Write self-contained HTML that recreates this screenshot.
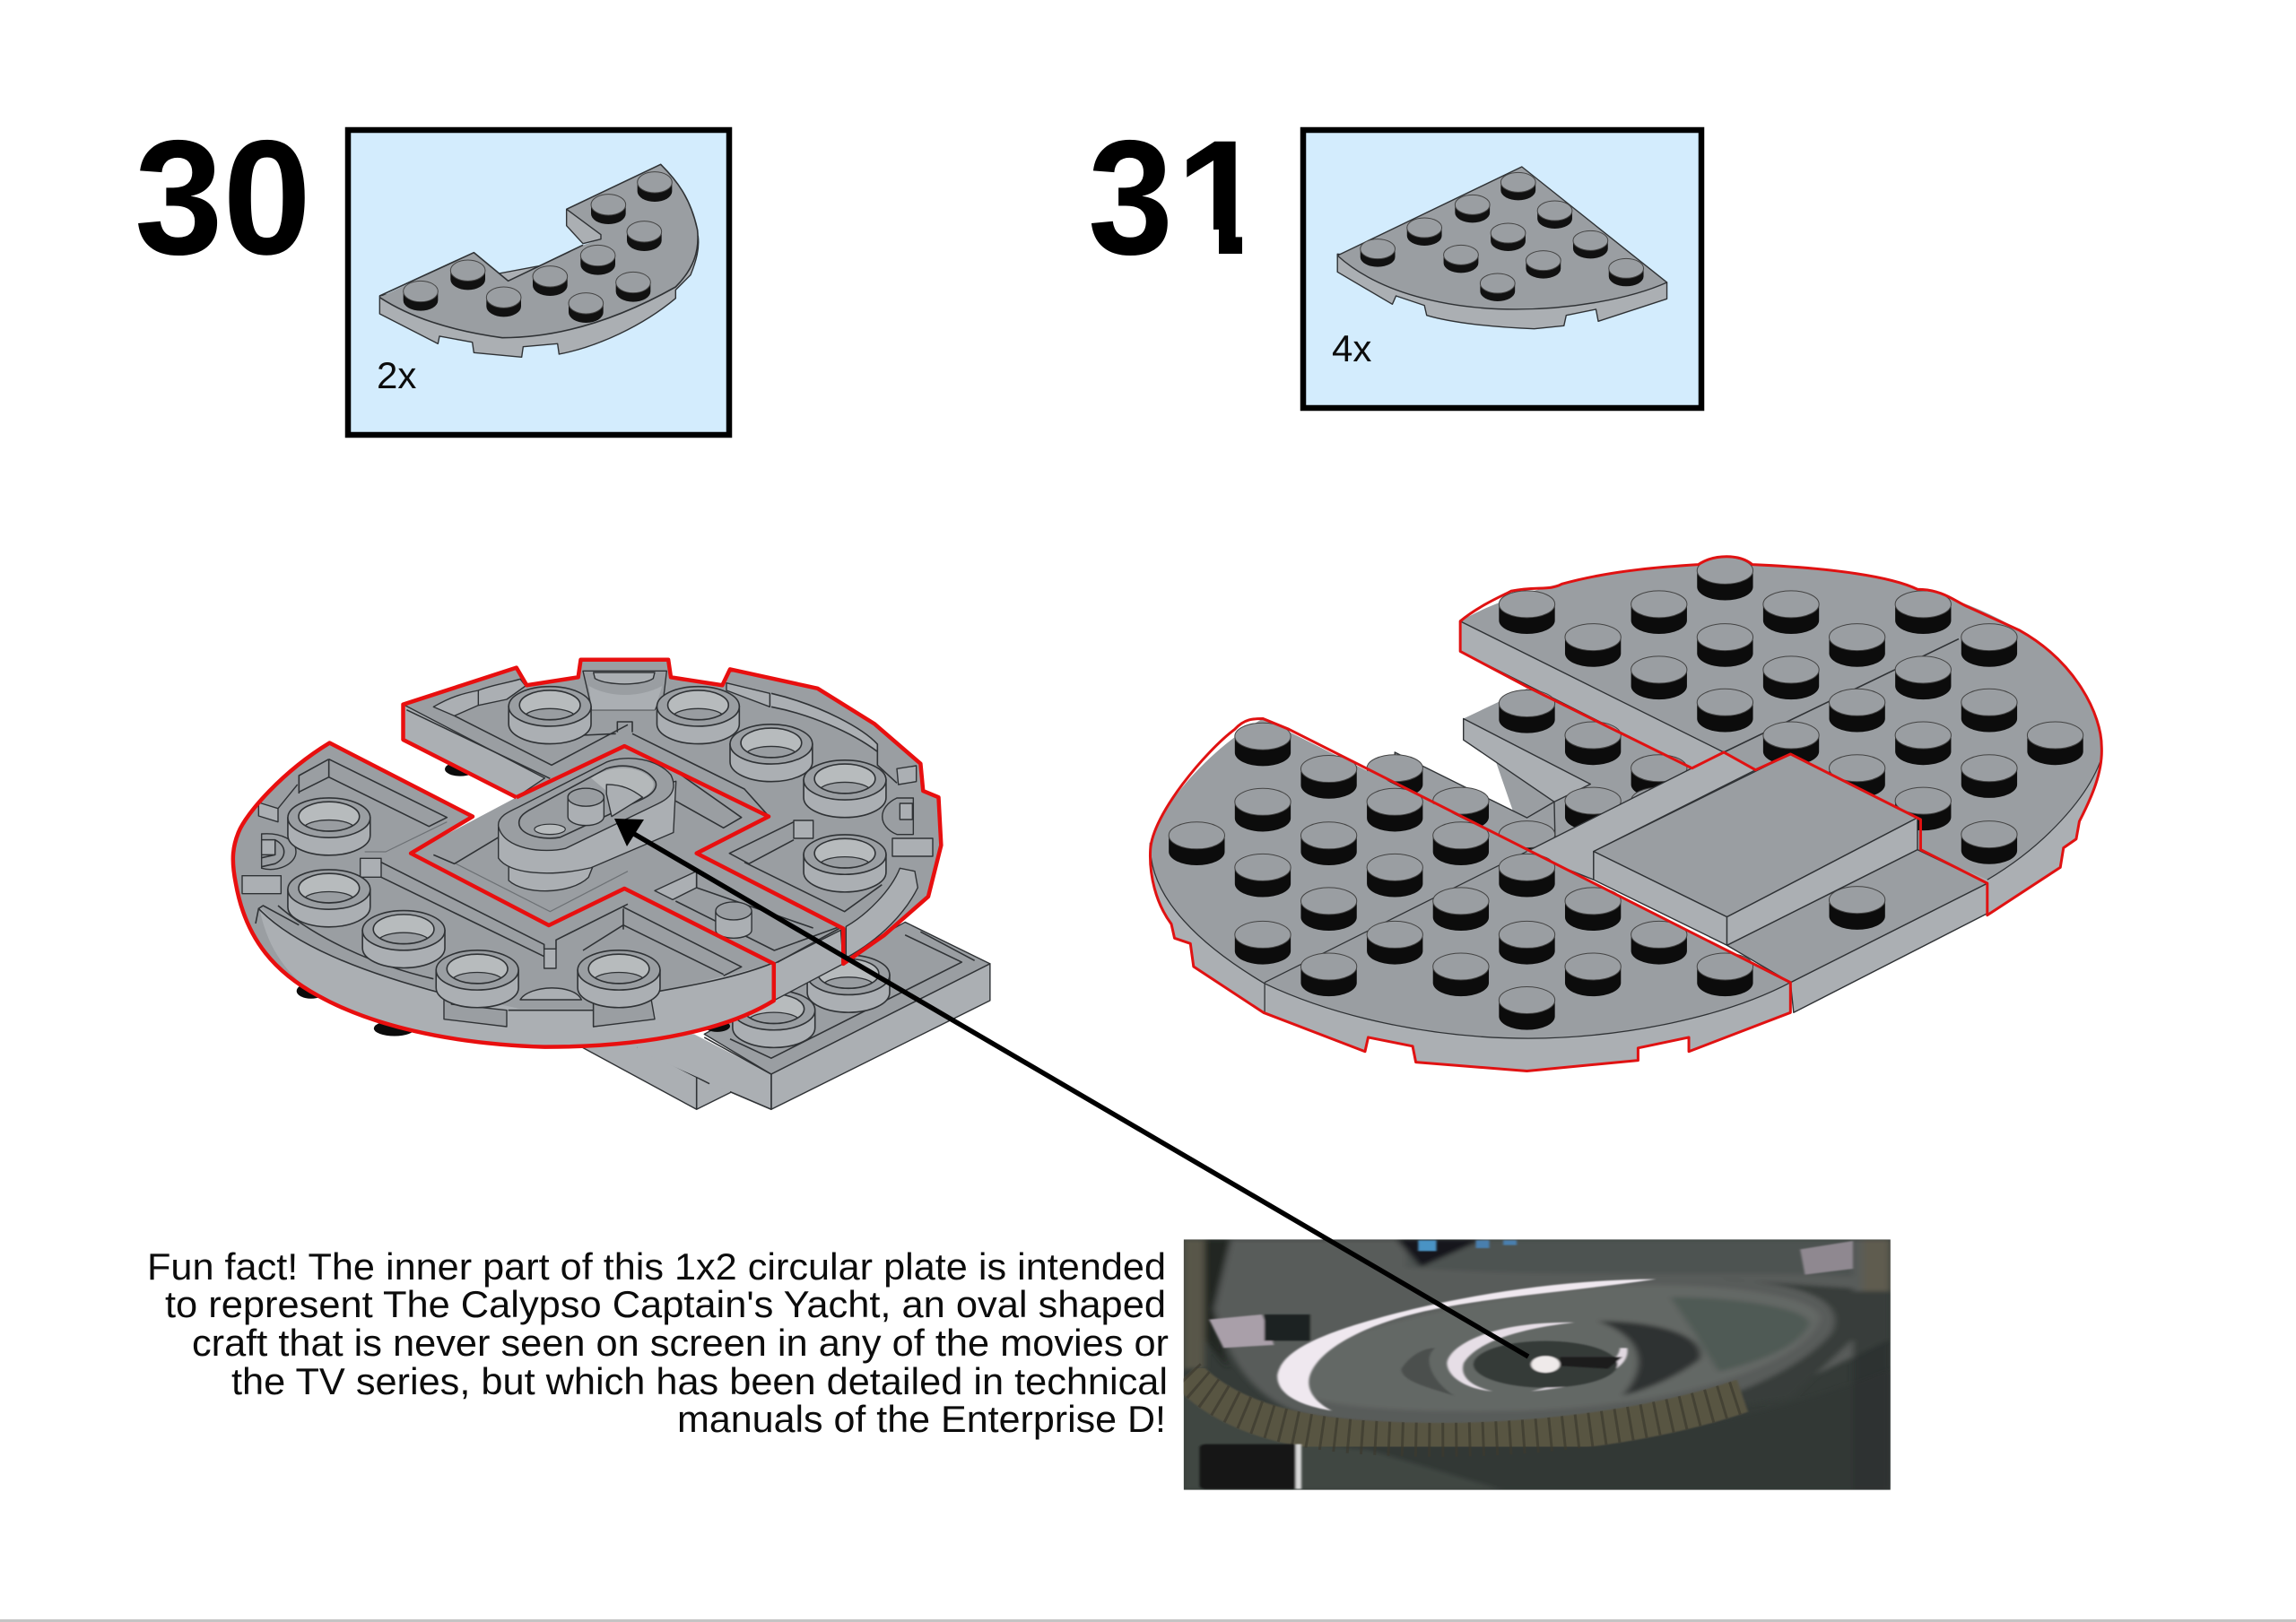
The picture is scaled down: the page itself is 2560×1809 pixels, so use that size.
<!DOCTYPE html>
<html><head><meta charset="utf-8"><style>
html,body{margin:0;padding:0;background:#fff}
svg{display:block}
svg *{vector-effect:non-scaling-stroke}
.t{fill:#9a9ea2}.s{fill:#abafb3}
.o{stroke:#2f3235;stroke-width:1.4;stroke-linejoin:round}
.l{fill:none;stroke:#2f3235;stroke-width:1.6;stroke-linejoin:round}
.g{fill:none;stroke:#6d7175;stroke-width:1.2;stroke-linejoin:round}
.r{fill:none;stroke:#e01212;stroke-width:3;stroke-linejoin:round}
.rr{fill:none;stroke:#e80f0f;stroke-width:4.5;stroke-linejoin:round}
text{font-family:"Liberation Sans",sans-serif;fill:#0c0c0c}
</style></head><body>
<svg xmlns="http://www.w3.org/2000/svg" width="2560" height="1809" viewBox="0 0 2560 1809">
<defs>
<g id="a"><path d="M-58,0V30A58,35 0 0 0 58,30V0Z" fill="#111"/><ellipse rx="58" ry="35" fill="#9a9ea2" stroke="#444" stroke-width="1"/></g>
<g id="b"><path d="M-38,0V27A38,33 0 0 0 38,27V0Z" fill="#111"/><ellipse rx="38" ry="33" fill="#9a9ea2" stroke="#444" stroke-width="1"/></g>
<g id="r"><path d="M-44,0V46A44,38 0 0 0 44,46V0Z" fill="#0c0c0c"/><ellipse rx="44" ry="38" fill="#9a9ea2" stroke="#444" stroke-width="1"/></g>
<g id="h"><path d="M-80,0V55A80,62 0 0 0 80,55V0Z" fill="#abafb3" stroke="#2f3235" stroke-width="1.6"/><ellipse rx="80" ry="62" fill="#9a9ea2" stroke="#2f3235" stroke-width="1.6"/><ellipse cy="-4" rx="59" ry="46" fill="#b7bbbd" stroke="#2f3235" stroke-width="1.6"/><path d="M-46,24A50,28 0 0 1 46,24A59,46 0 0 1 -46,24Z" fill="#999da1" stroke="#2f3235" stroke-width="1.3"/></g>
<clipPath id="pc"><rect x="37" y="67" width="1471" height="838"/></clipPath>
<filter id="b3" x="-10%" y="-10%" width="120%" height="120%"><feGaussianBlur stdDeviation="2.5"/></filter>
<filter id="b8" x="-20%" y="-20%" width="140%" height="140%"><feGaussianBlur stdDeviation="7"/></filter>
</defs>
<rect width="2560" height="1809" fill="#fff"/>
<rect y="1806" width="2560" height="3" fill="#c4c4c4"/>

<text x="150" y="283" font-size="182" font-weight="700" textLength="197" lengthAdjust="spacingAndGlyphs" style="fill:#000">30</text>
<text x="1311" y="283" font-size="182" font-weight="700" textLength="100" lengthAdjust="spacingAndGlyphs" style="fill:#000">1</text>
<rect x="1385" y="256" width="42" height="32" fill="#fff"/>
<rect x="1308" y="256" width="51" height="32" fill="#fff"/>
<text x="1213" y="283" font-size="182" font-weight="700" textLength="95" lengthAdjust="spacingAndGlyphs" style="fill:#000">3</text>

<rect x="388" y="145" width="425" height="340" fill="#d3ecfd" stroke="#000" stroke-width="6.5"/>
<rect x="1453" y="145" width="444" height="310" fill="#d3ecfd" stroke="#000" stroke-width="6.5"/>
<text x="420" y="433" font-size="42">2x</text>
<text x="1485" y="403" font-size="42">4x</text>

<!-- part in box 30 -->
<g transform="translate(400,150) scale(.33333)">
<path class="s o" d="M70,540V600L265,700L270,675L380,695L385,730L545,745L550,710L665,700L670,735C800,710 950,640 1060,548V520L1110,470C1130,420 1140,380 1135,340Z"/>
<path class="t" d="M70,545C170,610 300,655 480,680C700,680 900,600 1060,510C1120,450 1140,390 1133,320C1110,210 1060,150 1010,100L695,250L810,340V350L750,370L500,490L385,395Z"/>
<path class="l" d="M70,545C170,610 300,655 480,680C700,680 900,600 1060,510C1120,450 1140,390 1133,320C1110,210 1060,150 1010,100L695,250M750,370L500,490L385,395L70,540"/>
<path class="s o" d="M695,250L810,335V350L750,365L695,305Z"/>
<use href="#a" x="990" y="160"/><use href="#a" x="835" y="235"/><use href="#a" x="955" y="325"/><use href="#a" x="800" y="405"/><use href="#a" x="365" y="455"/><use href="#a" x="640" y="475"/><use href="#a" x="918" y="495"/><use href="#a" x="207" y="525"/><use href="#a" x="485" y="545"/><use href="#a" x="760" y="565"/>
</g>

<!-- part in box 31 -->
<g transform="translate(1180,100) scale(.5102,.3333)">
<path class="s o" d="M610,550V610L730,718L738,690L800,722L805,755C860,780 950,795 1040,800L1105,790L1110,755L1175,735L1180,775L1330,700V645Z"/>
<path class="t o" d="M610,555L1013,258L1330,645C1250,700 1120,735 1000,735C850,735 700,680 610,555Z"/>
<use href="#b" x="1005" y="310"/><use href="#b" x="905" y="385"/><use href="#b" x="1085" y="405"/><use href="#b" x="800" y="462"/><use href="#b" x="983" y="480"/><use href="#b" x="1163" y="505"/><use href="#b" x="698" y="533"/><use href="#b" x="880" y="553"/><use href="#b" x="1060" y="572"/><use href="#b" x="1241" y="598"/><use href="#b" x="960" y="648"/>
</g>

<!-- left model: fills -->
<g transform="translate(240,700) scale(.574,.357)">
<path class="s o" d="M700,1300L935,1505L1010,1445L820,1290Z"/>
<path class="l" d="M935,1400V1505M820,1310L960,1425" />
<path class="t o" d="M950,1270L1340,920L1505,1050L1080,1395Z"/>
<path class="s o" d="M1080,1395L1505,1050V1165L1080,1505Z"/>
<path class="s" d="M930,1270L1080,1395V1505L1000,1450L820,1320V1260Z"/>
<path class="l" d="M950,1280L1080,1395V1505L1000,1450"/>
<path class="l" d="M1340,960L1450,1045L1080,1345L1000,1285M1370,950L1475,1040"/>
<use href="#h" x="1230" y="1085"/><use href="#h" x="1085" y="1195"/>
<ellipse cx="348" cy="1252" rx="40" ry="24" fill="#0b0b0b"/><ellipse cx="975" cy="1245" rx="25" ry="18" fill="#0b0b0b"/><ellipse cx="186" cy="1135" rx="28" ry="24" fill="#0b0b0b"/><ellipse cx="476" cy="442" rx="30" ry="22" fill="#0b0b0b"/>

<path class="t" d="M365,240L585,125L605,180L705,155L710,100L880,100L885,155L985,180L1000,130L1170,190L1280,300L1370,425L1375,510L1405,530L1410,680L1385,840L1300,960L1220,1050V940L935,705L1075,590L795,370L585,530L365,350Z"/>
<path class="s o" d="M365,240L640,470L585,530L365,350Z"/>
<path class="t" d="M795,370L1075,590L935,705L1220,940V1050L1085,1165V1050L795,815L648,930L380,705L585,530Z"/>
<path class="s o" d="M1085,1050L1215,945L1220,1050L1085,1165Z"/>
<path class="t" d="M222,360L500,590L380,705L648,930L795,815L1085,1050V1165C1000,1250 850,1310 640,1310C450,1300 300,1240 200,1150C120,1080 60,980 40,800C30,720 35,680 45,640C60,580 130,450 222,360Z"/>
<path class="s" d="M85,870C150,990 300,1090 450,1140L590,1190H735L1085,1050V1165C1000,1250 850,1310 640,1310C450,1300 300,1240 200,1150C140,1090 100,1000 85,870Z"/>
</g>

<!-- left model: detail, left half -->
<g transform="translate(250,720) scale(.33333)">
<path class="s o" d="M700,205C760,170 800,160 850,150V200L770,235ZM850,150C900,130 950,125 990,112L1008,135L945,180L850,200Z"/>
<path class="l" d="M610,215L1090,445M770,235L1095,400L1350,265"/>
<path class="l" d="M350,380L250,435V495M350,380V440M350,380L745,575L685,605L350,440L250,490"/>
<path class="g" d="M470,690H540L745,590M775,730L1090,890L1350,755"/>
<path class="l" d="M700,700L770,730L945,625"/>
<path class="s o" d="M115,525L180,545V590L115,570ZM180,545L245,465"/>
<path class="t o" d="M125,630C190,625 240,650 240,690C240,730 180,760 125,745Z"/>
<path class="l" d="M125,650H170C210,670 210,710 170,730L125,740M170,650V700L125,710"/>
<path class="s o" d="M125,650H170V700H125ZM60,770H190V830H60ZM455,712H525V775H455ZM1070,1015H1110V1080H1070Z"/>
<path class="l" d="M525,725L1070,1000V1015M1110,1015V985L1350,865M525,775L1070,1040"/>
<path class="l" d="M105,930L115,880L130,870L250,935M115,880C230,1000 450,1090 735,1165M180,870C300,975 500,1070 700,1115"/>
<path class="t o" d="M735,1160L760,1170V1200L945,1220V1275L735,1250Z"/>
<path class="s o" d="M990,1185C1020,1135 1170,1130 1195,1185Z"/>
<path class="l" d="M950,1220H1235M1235,1190V1275L1350,1255"/>
</g>
<!-- left model: detail, right half -->
<g transform="translate(650,720) scale(.33333)">
<path class="t o" d="M0,85H280L270,170L240,215H30Z" />
<path class="s" d="M20,135C90,175 190,175 265,135L240,215H30Z"/>
<path class="s o" d="M35,90H240L235,110C200,135 80,135 40,110Z"/>
<path class="l" d="M115,290V255H165V290" />
<path class="l" d="M0,300L110,295M165,295L540,480L625,575"/>
<path class="s o" d="M480,125L625,160V205L480,150Z"/>
<path class="s" d="M630,160C800,200 940,280 985,330V350C900,290 760,230 630,205Z"/>
<path class="l" d="M630,160C800,200 940,280 985,330V400L1050,460M630,205C760,230 900,290 985,355"/>
<path class="s o" d="M1050,412L1115,402V455L1055,465Z"/>
<path class="t o" d="M1105,510H1050C985,540 985,605 1050,632H1105Z"/>
<path class="s o" d="M1060,528H1102V582H1060ZM1035,645H1170V705H1035ZM705,585H770V645H705Z"/>
<path class="l" d="M705,590L490,695L555,730L705,650M540,725L875,890L1000,800"/>
<path class="s o" d="M880,940C950,900 1030,820 1060,745L1110,755L1120,810C1080,890 1000,980 880,1045Z"/>
<path class="l" d="M310,420L530,575L470,610L310,520"/>
<path class="s o" d="M240,820L380,755V810L300,850Z"/>
<path class="l" d="M380,755V810L770,945M310,855L640,1020L860,940"/>
<path class="l" d="M135,880V950M135,875L530,1075L470,1105M135,935L470,1100M0,1020L135,935"/>
<path class="s" d="M235,1160C350,1140 520,1110 640,1060V1170C520,1240 350,1290 240,1290Z"/>
<path class="l" d="M235,1160C350,1140 520,1110 640,1060"/>
<path class="t o" d="M35,1190L225,1165L240,1250L35,1275Z"/>
<path class="l" d="M650,1060L860,945"/>
</g>

<!-- left model: studs, yacht, red -->
<g transform="translate(240,700) scale(.574,.357)">
<use href="#h" x="650" y="246"/><use href="#h" x="938" y="246"/><use href="#h" x="1080" y="364"/><use href="#h" x="1223" y="476"/><use href="#h" x="1223" y="709"/>
<use href="#h" x="221" y="594"/><use href="#h" x="221" y="818"/><use href="#h" x="366" y="946"/><use href="#h" x="509" y="1070"/><use href="#h" x="784" y="1070"/>
<path class="s o" d="M972,890A35,25 0 0 1 1042,890V945A35,25 0 0 1 972,945Z"/>
<ellipse cx="1007" cy="885" rx="35" ry="28" fill="#999da1" stroke="#2f3235" stroke-width="1.4"/>
<path class="s o" d="M570,740V790C600,835 690,835 725,780L735,740Z"/>
<path class="s o" d="M550,620V720C570,770 650,780 730,750L890,640L895,480L600,600Z"/>
<path class="t o" d="M550,620C548,590 570,575 590,560L760,420C800,395 860,410 885,460C900,510 880,535 860,550L680,690C640,705 560,695 550,620Z"/>
<path class="l" d="M590,610C590,590 600,580 610,570L760,440C800,420 840,440 855,480C860,500 850,520 830,535L670,655C640,665 590,650 590,610Z" style="fill:#9a9ea2"/>
<path d="M730,470C770,425 830,430 850,480C855,500 845,520 830,530C810,500 780,495 760,510Z" fill="#b4b8ba"/>
<path class="s o" d="M760,490C790,490 810,505 830,530L770,590L760,520Z"/>
<path class="s o" d="M685,530A35,28 0 0 1 755,530V590A35,28 0 0 1 685,590Z"/>
<ellipse cx="720" cy="530" rx="35" ry="28" fill="#999da1" stroke="#2f3235" stroke-width="1.4"/>
<ellipse cx="650" cy="630" rx="30" ry="16" fill="#b7bbbd" stroke="#2f3235" stroke-width="1.2"/>
<path class="rr" d="M585,530L365,350V240L585,125L605,180L705,155L710,100L880,100L885,155L985,180L1000,130L1170,190L1280,300L1370,425L1375,510L1405,530L1410,680L1385,840L1300,960L1220,1050V940L935,705L1075,590L795,370L585,530"/>
<path class="rr" d="M222,360L500,590L380,705L648,930L795,815L1085,1050V1165C1000,1250 850,1310 640,1310C450,1300 300,1240 200,1150C120,1080 60,980 40,800C30,720 35,680 45,640C60,580 130,450 222,360Z"/>
</g>

<!-- right model -->
<g transform="translate(1260,600) scale(.708,.395)">
<path class="s" d="M520,235V320L885,650L935,605L985,655L1040,610L1245,795V880L1350,975V1065L1465,930L1470,875L1490,850L1495,800C1515,730 1532,660 1530,590Z"/>
<path class="t" d="M520,235C600,150 760,75 937,75C1110,75 1280,130 1400,260C1490,350 1530,500 1530,590C1530,700 1440,870 1350,965L1240,880L1040,610L985,655L935,605Z"/>
<path class="l" d="M1530,620C1510,730 1440,870 1350,965" style="stroke-width:1.2"/>
<path class="s o" d="M520,235L935,605L885,650L520,320Z"/>
<path class="l" d="M1305,285L935,605"/>
<use href="#r" x="937" y="92"/><use href="#r" x="625" y="187"/><use href="#r" x="833" y="187"/><use href="#r" x="1041" y="187"/><use href="#r" x="1249" y="187"/><use href="#r" x="729" y="280"/><use href="#r" x="937" y="280"/><use href="#r" x="1145" y="280"/><use href="#r" x="1353" y="280"/><use href="#r" x="833" y="372"/><use href="#r" x="1041" y="372"/><use href="#r" x="1249" y="372"/><use href="#r" x="937" y="464"/><use href="#r" x="1145" y="464"/><use href="#r" x="1353" y="464"/><use href="#r" x="1041" y="557"/><use href="#r" x="1249" y="557"/><use href="#r" x="1457" y="557"/><use href="#r" x="1145" y="650"/><use href="#r" x="1353" y="650"/><use href="#r" x="1249" y="742"/><use href="#r" x="1353" y="837"/>
<path class="t" d="M525,510L625,425L885,650L625,885L570,600Z"/>
<path class="s o" d="M525,510L725,695L668,745L525,570Z"/>
<use href="#r" x="625" y="467"/><use href="#r" x="729" y="557"/><use href="#r" x="833" y="650"/><use href="#r" x="729" y="742"/><use href="#r" x="833" y="742"/>
<path class="t o" d="M417,605L625,790L668,745L670,900L417,900Z"/>
<use href="#r" x="417" y="650"/><use href="#r" x="521" y="742"/><use href="#r" x="625" y="837"/>
<path class="s o" d="M625,885L885,650L935,605L985,655L730,885L730,965L625,890Z"/>
<path class="s o" d="M1040,1255L1350,975V1060L1045,1340Z"/>
<path class="t o" d="M940,1150L1240,880L1350,975L1040,1255Z"/>
<use href="#r" x="1145" y="1022"/>
<path class="t o" d="M730,885L1040,610L1240,790L940,1070Z"/>
<path class="s o" d="M730,885L940,1070V1150L730,965Z"/>
<path class="s o" d="M940,1070L1240,790V880L940,1150Z"/>
<path class="s" d="M30,860C30,920 40,1050 65,1090L70,1130L95,1145L100,1210L210,1340L370,1450L375,1410L445,1435L450,1480L625,1505L800,1475L800,1440L880,1410L880,1450L1040,1340V1255L640,890Z"/>
<path class="t" d="M209,510L1040,1255C940,1350 780,1412 627,1413C470,1412 320,1350 212,1258C110,1150 35,1020 32,880C35,780 120,600 209,510Z"/>
<path class="l" d="M32,880C35,1020 110,1150 212,1258C320,1350 470,1412 627,1413C780,1412 940,1350 1040,1255" style="stroke-width:1.3"/>
<path class="l" d="M212,1255L625,885M212,1255V1340" style="stroke-width:1.3"/>
<use href="#r" x="209" y="560"/><use href="#r" x="313" y="652"/><use href="#r" x="209" y="745"/><use href="#r" x="417" y="745"/><use href="#r" x="105" y="840"/><use href="#r" x="313" y="840"/><use href="#r" x="521" y="840"/><use href="#r" x="209" y="930"/><use href="#r" x="417" y="930"/><use href="#r" x="625" y="930"/><use href="#r" x="313" y="1025"/><use href="#r" x="521" y="1025"/><use href="#r" x="729" y="1025"/><use href="#r" x="209" y="1120"/><use href="#r" x="417" y="1120"/><use href="#r" x="625" y="1120"/><use href="#r" x="833" y="1120"/><use href="#r" x="313" y="1210"/><use href="#r" x="521" y="1210"/><use href="#r" x="729" y="1210"/><use href="#r" x="937" y="1210"/><use href="#r" x="625" y="1305"/>
<path class="r" d="M625,420L520,320V235C550,190 590,160 600,150C640,135 660,150 680,130C760,90 850,80 895,75C920,45 960,45 980,75C1110,85 1200,110 1240,145C1280,145 1300,180 1320,195L1400,260C1490,350 1530,500 1530,590C1532,660 1515,730 1495,800L1490,850L1470,875L1465,930L1350,1065V975L1245,880V795L1040,610L985,655L935,605L885,650L625,420"/>
<path class="r" d="M209,510L250,540L1040,1255V1340L880,1450V1410L800,1440V1475L625,1505L450,1480L445,1435L375,1410L370,1450L210,1340L100,1210L95,1145L70,1130L65,1090C40,1030 30,950 32,880C35,780 120,600 165,540C180,510 195,510 209,510Z"/>
</g>

<!-- photo -->
<g transform="translate(1300,1360) scale(.5357,.3333)" clip-path="url(#pc)">
<rect x="37" y="67" width="1471" height="838" fill="#353b38"/>
<g filter="url(#b8)">
<path d="M37,500V905H1508V500C1300,640 1000,760 600,750C300,740 130,650 37,500Z" fill="#333936"/>
<path d="M37,560C120,680 250,750 420,770L700,905H37Z" fill="#3f4743"/>
<path d="M80,67H1508V400L1300,560C1000,720 600,730 300,660C160,600 90,400 80,67Z" fill="#585c5a"/>
<path d="M500,67H1430V190C1200,170 800,200 500,160Z" fill="#4e5351"/>
<path d="M240,520C260,420 600,250 950,220C1200,210 1380,270 1360,340C1330,470 1100,620 750,640C500,650 230,630 240,520Z" fill="#636765"/>
<path d="M1050,260C1200,260 1340,300 1340,350C1320,420 1250,470 1150,510L1100,380Z" fill="#4f5a55"/>
<path d="M900,340C1040,340 1130,400 1110,470C1060,530 1000,570 950,590C1000,500 1000,400 900,340Z" fill="#2e3331"/>
<path d="M1150,200C1320,210 1420,270 1385,380C1330,490 1180,610 1000,660L1300,600L1430,400V230Z" fill="#373c3a"/>
<path d="M80,67H135L100,300L130,500L80,400Z" fill="#222523"/>
<path d="M37,67H80V500H37Z" fill="#59564a"/>
<path d="M480,67H660L530,160Z" fill="#15181a"/>
<path d="M1450,67H1508V240H1450Z" fill="#5e5c50"/>
<path d="M1430,240H1508V905H1430Z" fill="#2b2f2d" opacity=".7"/>
</g>
<path d="M45,520C110,630 220,710 420,730C700,760 1000,700 1200,590" fill="none" stroke="#595543" stroke-width="38" filter="url(#b3)"/>
<path d="M45,520C110,630 220,710 420,730C700,760 1000,700 1200,590" fill="none" stroke="#3c3a2f" stroke-width="38" stroke-dasharray="3 12" opacity=".7"/>
<g filter="url(#b3)">
<path d="M232,520C240,450 300,400 400,350C560,270 800,200 1020,200C850,240 700,255 560,300C420,345 320,430 300,520C290,570 310,610 345,640C270,620 230,580 232,520Z" fill="#efe8ef"/>
<path d="M585,480C590,420 680,340 850,345C760,360 650,400 620,480C610,530 640,560 680,575C630,570 585,530 585,480Z" fill="#e6dee6"/>
<path d="M960,430C970,510 870,560 760,575C850,540 940,500 945,430Z" fill="#e0d8e0"/>
<ellipse cx="790" cy="485" rx="150" ry="78" fill="#363a38"/>
<path d="M820,460H950L920,500L820,490Z" fill="#1c1e1d"/>
<ellipse cx="790" cy="485" rx="30" ry="28" fill="#efeaea"/>
<path d="M490,500C510,450 540,430 560,430C530,470 560,550 600,590C540,560 490,540 490,500Z" fill="#4b4f4d"/>
<path d="M90,335L200,318L225,420L120,430Z" fill="#a99fa9"/>
<rect x="205" y="318" width="95" height="88" fill="#1f2220"/>
<path d="M1320,100L1430,72V165L1330,185Z" fill="#8f8890"/>
<rect x="70" y="752" width="205" height="150" rx="12" fill="#141515"/>
<rect x="270" y="752" width="12" height="150" fill="#d8d8d8"/>
<rect x="525" y="70" width="38" height="36" fill="#4a93c4"/><rect x="645" y="70" width="28" height="26" fill="#4a7fae"/><rect x="702" y="70" width="28" height="16" fill="#4a7fae"/>
</g>
</g>

<!-- arrow -->
<line x1="1704" y1="1513" x2="695" y2="923" stroke="#000" stroke-width="5.5"/>
<path d="M685,913L718,914L699,944Z" fill="#000"/>

<!-- text -->
<g font-size="42">
<text x="164" y="1427" textLength="1136" lengthAdjust="spacingAndGlyphs">Fun fact! The inner part of this 1x2 circular plate is intended</text>
<text x="184" y="1469" textLength="1116" lengthAdjust="spacingAndGlyphs">to represent The Calypso Captain's Yacht, an oval shaped</text>
<text x="214" y="1512" textLength="1089" lengthAdjust="spacingAndGlyphs">craft that is never seen on screen in any of the movies or</text>
<text x="258" y="1555" textLength="1044" lengthAdjust="spacingAndGlyphs">the TV series, but which has been detailed in technical</text>
<text x="755" y="1597" textLength="545" lengthAdjust="spacingAndGlyphs">manuals of the Enterprise D!</text>
</g>
</svg>
</body></html>
